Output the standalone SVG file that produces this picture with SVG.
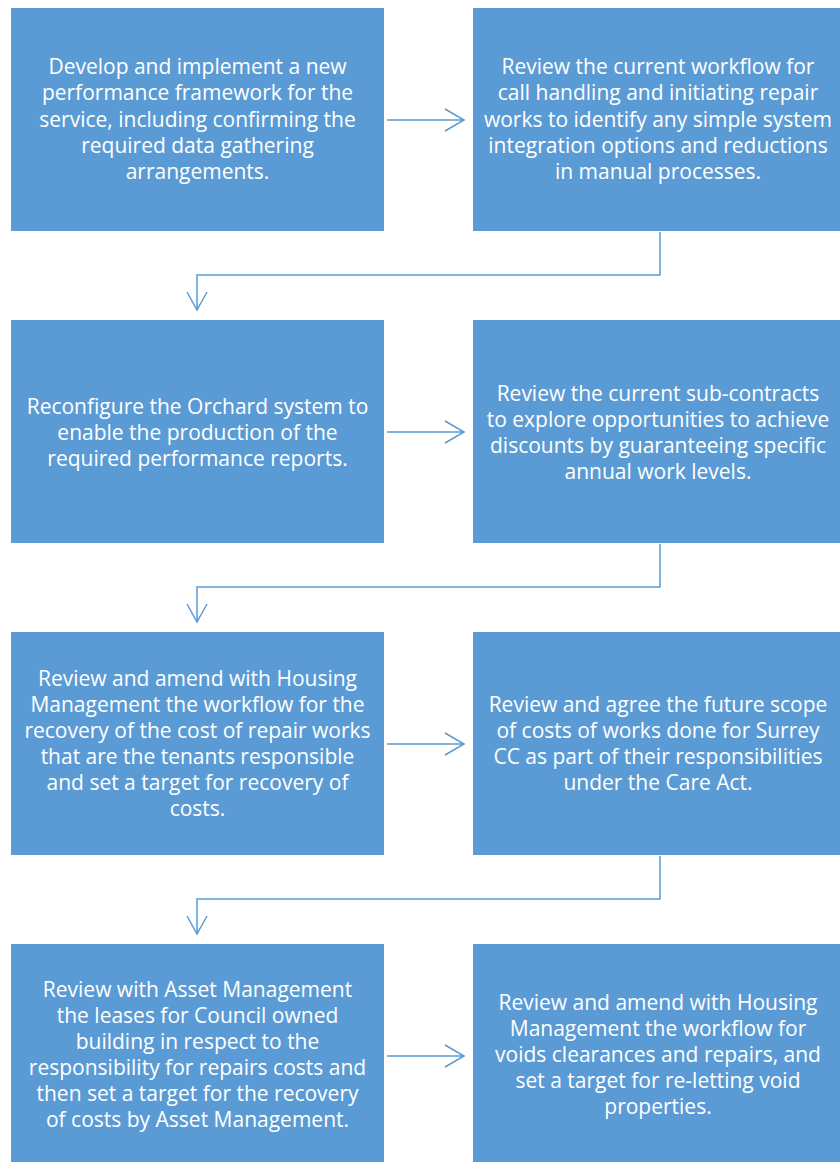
<svg xmlns="http://www.w3.org/2000/svg" width="840" height="1162" viewBox="0 0 840 1162">
<style>
.box{fill:#5b9bd5;}
.t{font-family:"Open Sans","Liberation Sans",sans-serif;font-size:21px;fill:#ffffff;text-anchor:middle;}
.c{fill:none;stroke:#5b9bd5;stroke-width:1.5;}
</style>
<rect width="840" height="1162" fill="#ffffff"/>
<g id="n1"><rect class="box" x="11" y="8" width="373" height="223"/>
<text class="t"><tspan x="197.5" y="74">Develop and implement a new</tspan><tspan x="197.5" y="100">performance framework for the</tspan><tspan x="197.5" y="127">service, including confirming the</tspan><tspan x="197.5" y="153">required data gathering</tspan><tspan x="197.5" y="179">arrangements.</tspan></text></g>
<g id="n2"><rect class="box" x="473" y="8" width="374" height="223"/>
<text class="t"><tspan x="658" y="74">Review the current workflow for</tspan><tspan x="658" y="100">call handling and initiating repair</tspan><tspan x="658" y="127">works to identify any simple system</tspan><tspan x="658" y="153">integration options and reductions</tspan><tspan x="658" y="179">in manual processes.</tspan></text></g>
<g id="n3"><rect class="box" x="11" y="320" width="373" height="223"/>
<text class="t"><tspan x="197.5" y="414">Reconfigure the Orchard system to</tspan><tspan x="197.5" y="440">enable the production of the</tspan><tspan x="197.5" y="466">required performance reports.</tspan></text></g>
<g id="n4"><rect class="box" x="473" y="320" width="374" height="223"/>
<text class="t"><tspan x="658" y="401">Review the current sub-contracts</tspan><tspan x="658" y="427">to explore opportunities to achieve</tspan><tspan x="658" y="453">discounts by guaranteeing specific</tspan><tspan x="658" y="479">annual work levels.</tspan></text></g>
<g id="n5"><rect class="box" x="11" y="632" width="373" height="223"/>
<text class="t"><tspan x="197.5" y="686">Review and amend with Housing</tspan><tspan x="197.5" y="712">Management the workflow for the</tspan><tspan x="197.5" y="738">recovery of the cost of repair works</tspan><tspan x="197.5" y="764">that are the tenants responsible</tspan><tspan x="197.5" y="790">and set a target for recovery of</tspan><tspan x="197.5" y="816">costs.</tspan></text></g>
<g id="n6"><rect class="box" x="473" y="632" width="374" height="223"/>
<text class="t"><tspan x="658" y="712">Review and agree the future scope</tspan><tspan x="658" y="738">of costs of works done for Surrey</tspan><tspan x="658" y="764">CC as part of their responsibilities</tspan><tspan x="658" y="790">under the Care Act.</tspan></text></g>
<g id="n7"><rect class="box" x="11" y="944" width="373" height="223"/>
<text class="t"><tspan x="197.5" y="997">Review with Asset Management</tspan><tspan x="197.5" y="1023">the leases for Council owned</tspan><tspan x="197.5" y="1049">building in respect to the</tspan><tspan x="197.5" y="1075">responsibility for repairs costs and</tspan><tspan x="197.5" y="1101">then set a target for the recovery</tspan><tspan x="197.5" y="1127">of costs by Asset Management.</tspan></text></g>
<g id="n8"><rect class="box" x="473" y="944" width="374" height="223"/>
<text class="t"><tspan x="658" y="1010">Review and amend with Housing</tspan><tspan x="658" y="1036">Management the workflow for</tspan><tspan x="658" y="1062">voids clearances and repairs, and</tspan><tspan x="658" y="1088">set a target for re-letting void</tspan><tspan x="658" y="1114">properties.</tspan></text></g>
<g id="connectors">
<path class="c" d="M387 120H464M445 109L464 120L445 131"/>
<path class="c" d="M387 432H464M445 421L464 432L445 443"/>
<path class="c" d="M387 744H464M445 733L464 744L445 755"/>
<path class="c" d="M387 1056H464M445 1045L464 1056L445 1067"/>
<path class="c" d="M660 232V275H197V310M187 292L197 310L207 292"/>
<path class="c" d="M660 544V587H197V622M187 604L197 622L207 604"/>
<path class="c" d="M660 856V899H197V934M187 916L197 934L207 916"/>
</g>
</svg>
